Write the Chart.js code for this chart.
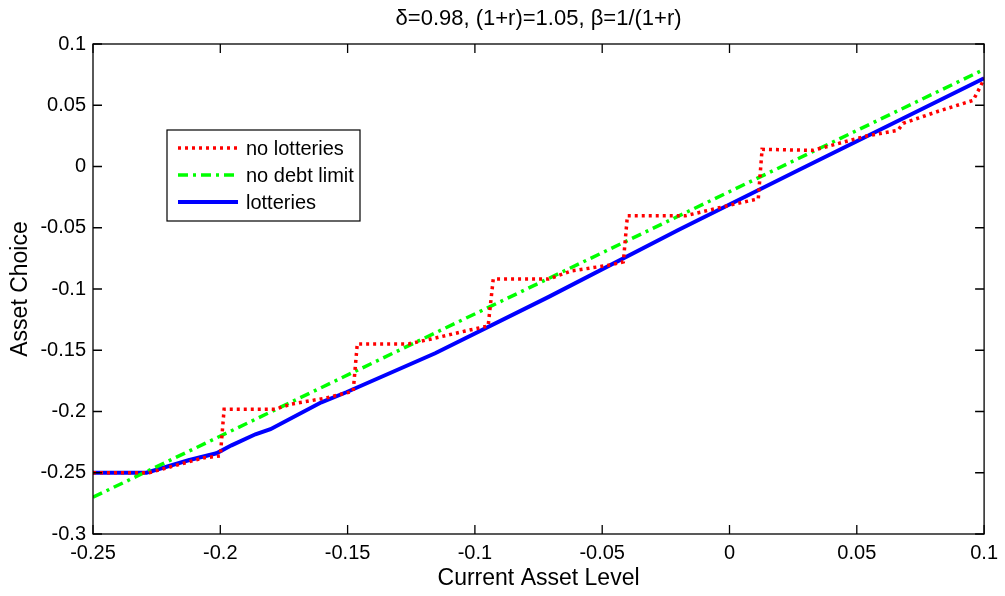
<!DOCTYPE html>
<html>
<head>
<meta charset="utf-8">
<script src="https://cdn.jsdelivr.net/npm/chart.js@4.4.1/dist/chart.umd.min.js"></script>
<style>
  body { margin: 0; background: #fff; }
  #wrap { width: 1005px; height: 596px; }
</style>
</head>
<body>
<div id="wrap"><canvas id="chart"></canvas></div>
<script>
// values
const noLotteriesX = [-0.25, -0.228, -0.2067, -0.2000, -0.1985, -0.1785, -0.1722, -0.1588, -0.1478, -0.1462, -0.1261, -0.1171, -0.1038, -0.0948, -0.0928, -0.0711, -0.0621, -0.0464, -0.0417, -0.0401, -0.0174, 0.0007, 0.0113, 0.0128, 0.0328, 0.0532, 0.0662, 0.0682, 0.0820, 0.0957, 0.0988, 0.1];
const noLotteriesY = [-0.25, -0.25, -0.2379, -0.2363, -0.1981, -0.1981, -0.1940, -0.1891, -0.1835, -0.1448, -0.1448, -0.1408, -0.1343, -0.1302, -0.0919, -0.0919, -0.0852, -0.0803, -0.0778, -0.0403, -0.0403, -0.0313, -0.0264, 0.0140, 0.0132, 0.0246, 0.0296, 0.0353, 0.0451, 0.0540, 0.0663, 0.0720];

const noDebtX = [-0.25, 0.1];
const noDebtY = [-0.270, 0.0793];

const lotteriesX = [-0.25, -0.229, -0.2125, -0.2015, -0.1956, -0.1862, -0.1803, -0.1603, -0.1505, -0.1156, -0.0712, -0.0201, 0.0270, 0.1];
const lotteriesY = [-0.25, -0.25, -0.2398, -0.2341, -0.2276, -0.2186, -0.2145, -0.1925, -0.1843, -0.1525, -0.1066, -0.0519, -0.0031, 0.0720];

const xTicks = [-0.25, -0.2, -0.15, -0.1, -0.05, 0, 0.05, 0.1];
const xTickLabels = ['-0.25', '-0.2', '-0.15', '-0.1', '-0.05', '0', '0.05', '0.1'];
const yTicks = [-0.3, -0.25, -0.2, -0.15, -0.1, -0.05, 0, 0.05, 0.1];
const yTickLabels = ['-0.3', '-0.25', '-0.2', '-0.15', '-0.1', '-0.05', '0', '0.05', '0.1'];

const titleText = 'δ=0.98, (1+r)=1.05, β=1/(1+r)';
const xTitle = 'Current Asset Level';
const yTitle = 'Asset Choice';

const FONT = '"Liberation Sans", Arial, sans-serif';

function toPoints(xs, ys) {
    return xs.map((x, i) => ({ x: x, y: ys[i] }));
}

// frame, inner ticks, titles and the boxed legend like the matlab figure
const matlabFrame = {
    id: 'matlabFrame',
    afterDraw(chart) {
        const ctx = chart.ctx;
        const a = chart.chartArea;
        const xs = chart.scales.x;
        const ys = chart.scales.y;
        const tick = 9;

        ctx.save();
        ctx.strokeStyle = '#000';
        ctx.lineWidth = 1.3;
        ctx.strokeRect(a.left, a.top, a.right - a.left, a.bottom - a.top);

        ctx.beginPath();
        xTicks.forEach(v => {
            const px = xs.getPixelForValue(v);
            ctx.moveTo(px, a.bottom); ctx.lineTo(px, a.bottom - tick);
            ctx.moveTo(px, a.top); ctx.lineTo(px, a.top + tick);
        });
        yTicks.forEach(v => {
            const py = ys.getPixelForValue(v);
            ctx.moveTo(a.left, py); ctx.lineTo(a.left + tick, py);
            ctx.moveTo(a.right, py); ctx.lineTo(a.right - tick, py);
        });
        ctx.stroke();

        ctx.fillStyle = '#000';
        ctx.textAlign = 'center';
        ctx.textBaseline = 'middle';
        ctx.font = '22px ' + FONT;
        ctx.fillText(titleText, (a.left + a.right) / 2, 19);

        ctx.font = '23px ' + FONT;
        ctx.fillText(xTitle, (a.left + a.right) / 2, 579);

        ctx.save();
        ctx.translate(21, (a.top + a.bottom) / 2);
        ctx.rotate(-Math.PI / 2);
        ctx.fillText(yTitle, 0, 0);
        ctx.restore();

        // legend
        const lx = 167, ly = 130, lw = 193, lh = 91;
        ctx.fillStyle = '#fff';
        ctx.fillRect(lx, ly, lw, lh);
        ctx.lineWidth = 1.2;
        ctx.strokeStyle = '#000';
        ctx.strokeRect(lx, ly, lw, lh);

        const rows = [148, 175, 202];
        ctx.font = '20px ' + FONT;
        ctx.textAlign = 'left';
        chart.data.datasets.forEach((ds, i) => {
            ctx.beginPath();
            ctx.strokeStyle = ds.borderColor;
            ctx.lineWidth = ds.borderWidth;
            ctx.setLineDash(ds.borderDash || []);
            ctx.moveTo(178, rows[i]);
            ctx.lineTo(238, rows[i]);
            ctx.stroke();
            ctx.setLineDash([]);
            ctx.fillStyle = '#000';
            ctx.fillText(ds.label, 246, rows[i] + 1);
        });
        ctx.restore();
    }
};

const ctx = document.getElementById('chart').getContext('2d');
const chart = new Chart(ctx, {
    type: 'scatter',
    data: {
        datasets: [{
            label: 'no lotteries',
            data: toPoints(noLotteriesX, noLotteriesY),
            showLine: true,
            borderColor: '#ff0000',
            borderWidth: 3.5,
            borderDash: [3, 4],
            pointRadius: 0,
            tension: 0
        }, {
            label: 'no debt limit',
            data: toPoints(noDebtX, noDebtY),
            showLine: true,
            borderColor: '#00ff00',
            borderWidth: 3.5,
            borderDash: [10, 5, 3, 5],
            pointRadius: 0,
            tension: 0
        }, {
            label: 'lotteries',
            data: toPoints(lotteriesX, lotteriesY),
            showLine: true,
            borderColor: '#0000ff',
            borderWidth: 4,
            pointRadius: 0,
            tension: 0
        }]
    },
    options: {
        responsive: true,
        maintainAspectRatio: false,
        animation: false,
        layout: { padding: { top: 44, right: 18, left: 0, bottom: 0 } },
        plugins: {
            legend: { display: false },
            tooltip: { enabled: false }
        },
        scales: {
            x: {
                type: 'linear',
                min: -0.25,
                max: 0.1,
                afterFit: s => { s.height = 62; },
                afterBuildTicks: s => { s.ticks = xTicks.map(v => ({ value: v })); },
                grid: { display: false, drawTicks: false },
                border: { display: false },
                ticks: {
                    padding: 7,
                    color: '#000',
                    font: { family: FONT, size: 20 },
                    maxRotation: 0,
                    autoSkip: false,
                    callback: (v, i) => xTickLabels[i]
                }
            },
            y: {
                type: 'linear',
                min: -0.3,
                max: 0.1,
                afterFit: s => { s.width = 93; },
                afterBuildTicks: s => { s.ticks = yTicks.map(v => ({ value: v })); },
                grid: { display: false, drawTicks: false },
                border: { display: false },
                ticks: {
                    padding: 7,
                    color: '#000',
                    font: { family: FONT, size: 20 },
                    autoSkip: false,
                    callback: (v, i) => yTickLabels[i]
                }
            }
        }
    },
    plugins: [matlabFrame]
});
</script>
</body>
</html>
